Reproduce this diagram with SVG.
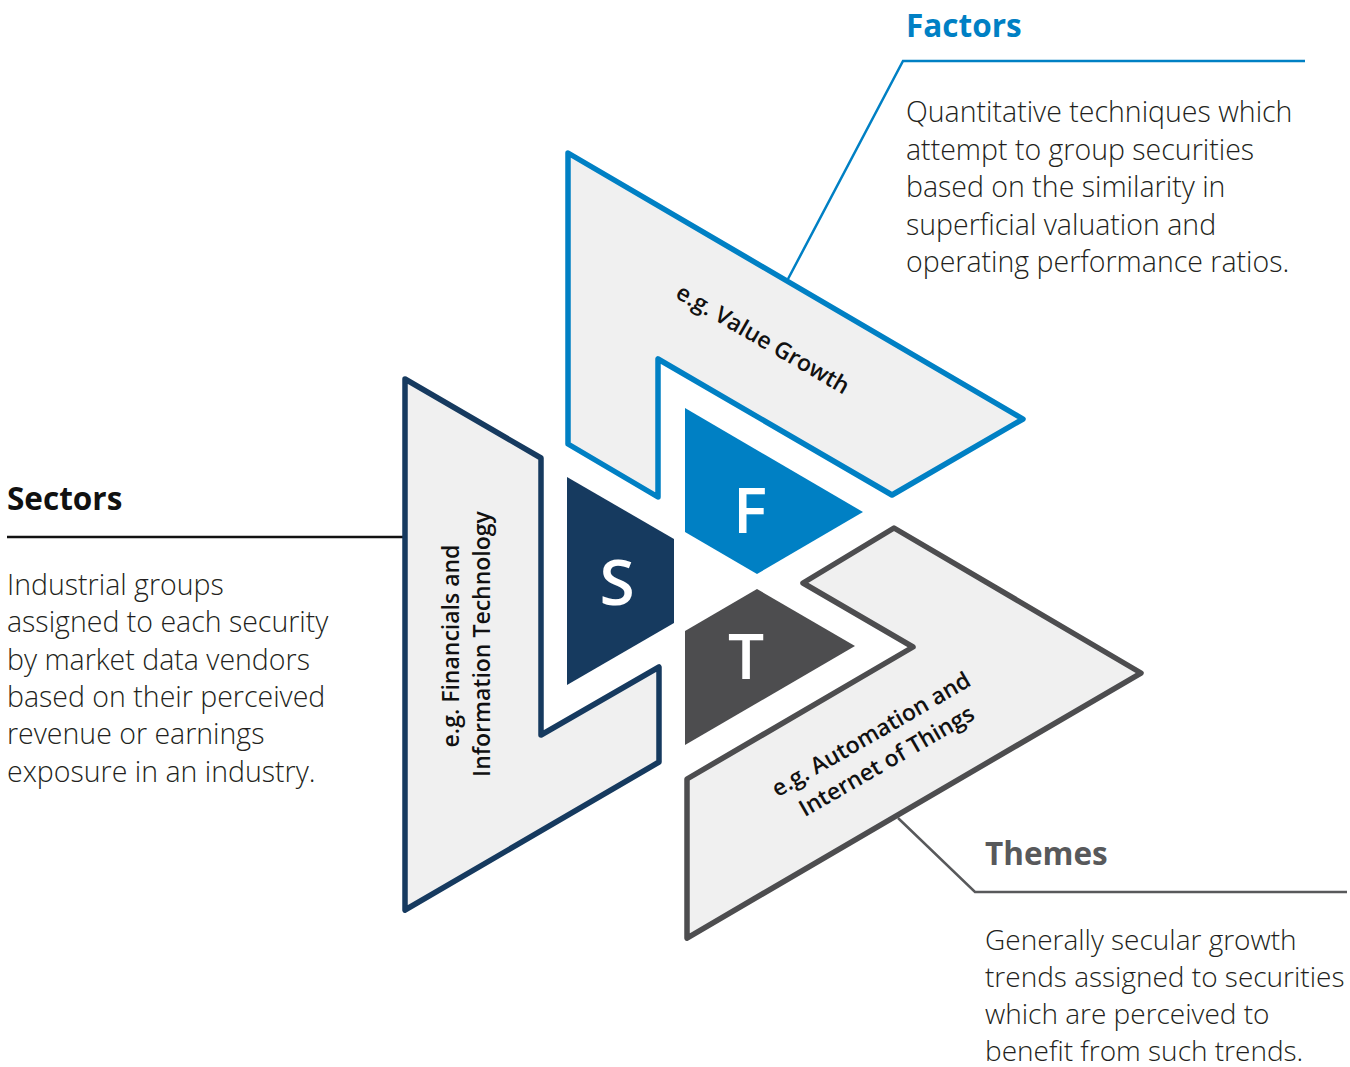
<svg xmlns="http://www.w3.org/2000/svg" width="1350" height="1067" viewBox="0 0 1350 1067">
<style>
.shape{fill:#f0f0f0;stroke-width:5.5;stroke-linejoin:round}
.blue{stroke:#0080c4}
.navy{stroke:#163a5f}
.gray{stroke:#4d4d4f}
.lbl{font-family:"Open Sans","Liberation Sans",sans-serif;font-weight:600;font-size:23px;fill:#111;text-anchor:middle}
.head{font-family:"Open Sans","Liberation Sans",sans-serif;font-weight:700;font-size:31.5px}
.body{font-family:"Open Sans","Liberation Sans",sans-serif;font-weight:300;font-size:28.5px;fill:#231f20}
.letter{font-family:"Open Sans","Liberation Sans",sans-serif;font-weight:600;font-size:64px;fill:#fff;text-anchor:middle}
.lead{fill:none;stroke-width:2.5}
</style>
<rect width="1350" height="1067" fill="#fff"/>
<g id="connectors">
<polyline class="lead" stroke="#0080c4" points="788,279 903,61 1305,61"/>
<line class="lead" stroke="#111" x1="7" y1="537" x2="405" y2="537"/>
<polyline class="lead" stroke="#58595b" stroke-width="2" points="898,818 975,892 1347,892"/>
</g>
<g id="factors">
<polygon class="shape blue" points="568,153 1023,419 892,495 658,359 658,497 568,444"/>
<text class="lbl" transform="translate(763,339) rotate(30)" y="8">e.g. Value Growth</text>
<polygon fill="#0080c4" points="685,408 863,512 757,574 685,532"/>
<text class="letter" x="750" y="533">F</text>
<text class="head" x="906" y="37" fill="#0080c4">Factors</text>
<text class="body" x="906"><tspan x="906" y="122">Quantitative techniques which</tspan><tspan x="906" y="159.5">attempt to group securities</tspan><tspan x="906" y="197">based on the similarity in</tspan><tspan x="906" y="234.5">superficial valuation and</tspan><tspan x="906" y="272">operating performance ratios.</tspan></text>
</g>
<g id="sectors">
<polygon class="shape navy" points="405,379 541,458 541,735 659,667 659,762 405,910"/>
<g transform="rotate(-90)"><text class="lbl" x="-646" y="459">e.g. Financials and</text><text class="lbl" x="-644" y="490">Information Technology</text></g>
<polygon fill="#163a5f" points="567,477 674,539 674,623 567,685"/>
<text class="letter" x="617" y="605">S</text>
<text class="head" x="7" y="510" fill="#111">Sectors</text>
<text class="body"><tspan x="7" y="595">Industrial groups</tspan><tspan x="7" y="632">assigned to each security</tspan><tspan x="7" y="669.5">by market data vendors</tspan><tspan x="7" y="707">based on their perceived</tspan><tspan x="7" y="744">revenue or earnings</tspan><tspan x="7" y="781.5">exposure in an industry.</tspan></text>
</g>
<g id="themes">
<polygon class="shape gray" points="894,528 1141,673 687,938 687,779 913,647 803,583"/>
<g transform="translate(879,748) rotate(-30)"><text class="lbl" y="-8">e.g. Automation and</text><text class="lbl" y="23">Internet of Things</text></g>
<polygon fill="#4d4d4f" points="757,589 855,646 685,745 685,631"/>
<text class="letter" x="746" y="679">T</text>
<text class="head" x="985" y="865" fill="#58595b">Themes</text>
<text class="body" style="font-size:28px"><tspan x="985" y="950">Generally secular growth</tspan><tspan x="985" y="987">trends assigned to securities</tspan><tspan x="985" y="1024">which are perceived to</tspan><tspan x="985" y="1061">benefit from such trends.</tspan></text>
</g>
</svg>
